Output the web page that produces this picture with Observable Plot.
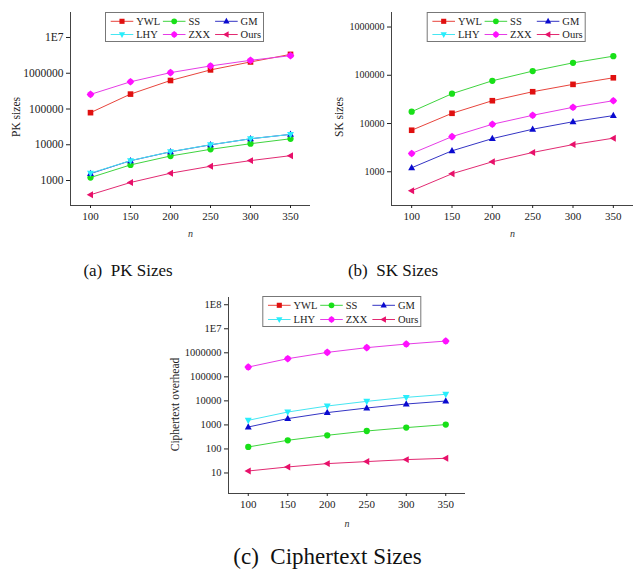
<!DOCTYPE html>
<html><head><meta charset="utf-8">
<script src="https://cdn.jsdelivr.net/npm/d3@7"></script>
<script src="https://cdn.jsdelivr.net/npm/@observablehq/plot@0.6"></script>
<style>
html,body{margin:0;padding:0;background:#fff;}
#wrap{position:relative;width:639px;height:569px;overflow:hidden;background:#fff;}
.panel{position:absolute;}
#overlay{position:absolute;left:0;top:0;}
</style></head><body><div id="wrap"></div>
<script>
// ---------- data ----------
const nValues = [100, 150, 200, 250, 300, 350];
const seriesNames = ["YWL", "SS", "GM", "LHY", "ZXX", "Ours"];

// (a) PK sizes
const pkYWL  = [79000, 261000, 627000, 1240000, 2070000, 3370000];
const pkSS   = [1210, 2730, 4850, 7450, 10700, 14700];
const pkGM   = [1560, 3580, 6350, 9950, 14700, 19500];
const pkLHY  = [1600, 3600, 6400, 10000, 14700, 19500];
const pkZXX  = [256000, 577000, 1040000, 1600000, 2300000, 3100000];
const pkOurs = [400, 880, 1600, 2500, 3600, 4950];

// (b) SK sizes
const skYWL  = [7260, 16300, 29700, 45600, 64800, 88700];
const skSS   = [17600, 41500, 76900, 122000, 181000, 249000];
const skGM   = [1210, 2720, 4870, 7620, 10900, 14600];
const skLHY  = [null, null, null, null, null, null];
const skZXX  = [2390, 5350, 9660, 14800, 21700, 29700];
const skOurs = [405, 910, 1610, 2510, 3660, 4970];

// (c) Ciphertext overhead
const ctYWL  = [null, null, null, null, null, null];
const ctSS   = [121, 229, 370, 558, 773, 1030];
const ctGM   = [818, 1830, 3250, 5050, 7400, 9860];
const ctLHY  = [1550, 3440, 6110, 9570, 14000, 18700];
const ctZXX  = [255000, 570000, 1040000, 1640000, 2310000, 3080000];
const ctOurs = [12.1, 17.8, 24.5, 29.8, 36, 40.8];

const pkTicks = [1000, 10000, 100000, 1000000, 10000000];
const skTicks = [1000, 10000, 100000, 1000000];
const ctTicks = [10, 100, 1000, 10000, 100000, 1000000, 10000000, 100000000];

const captions = ["(a)\u00a0 PK Sizes", "(b)\u00a0 SK Sizes", "(c)\u00a0 Ciphertext Sizes"];
const yLabels = ["PK sizes", "SK sizes", "Ciphertext overhead"];
const xLabel = "n";

// ---------- styles ----------
const lineColors   = {YWL: "#e8443c", SS: "#3fd43f", GM: "#3434c4", LHY: "#46e6f2", ZXX: "#e63ce6", Ours: "#e22a72"};
const markerColors = {YWL: "#e01010", SS: "#18e018", GM: "#0a0ad0", LHY: "#28eefc", ZXX: "#ff10ff", Ours: "#e8106a"};

const R = (size) => Math.sqrt(size / Math.PI);
const symbols = {
  YWL: {draw(c, s){ const r = R(s)*0.85; c.rect(-r, -r, 2*r, 2*r); }},
  SS:  {draw(c, s){ const r = R(s)*0.95; c.moveTo(r, 0); c.arc(0, 0, r, 0, 2*Math.PI); }},
  GM:  {draw(c, s){ const r = R(s); c.moveTo(0, -r*1.15); c.lineTo(r*1.05, r*0.75); c.lineTo(-r*1.05, r*0.75); c.closePath(); }},
  LHY: {draw(c, s){ const r = R(s); c.moveTo(0, r*1.15); c.lineTo(r*1.05, -r*0.75); c.lineTo(-r*1.05, -r*0.75); c.closePath(); }},
  ZXX: {draw(c, s){ const r = R(s)*1.15; c.moveTo(0, -r); c.lineTo(r*0.6, -r*0.55); c.lineTo(r, 0); c.lineTo(r*0.6, r*0.55); c.lineTo(0, r); c.lineTo(-r*0.6, r*0.55); c.lineTo(-r, 0); c.lineTo(-r*0.6, -r*0.55); c.closePath(); }},
  Ours:{draw(c, s){ const r = R(s); c.moveTo(-r*1.15, 0); c.lineTo(r*0.75, -r*1.05); c.lineTo(r*0.75, r*1.05); c.closePath(); }}
};

const fmt = d => d >= 1e7 ? "1E" + Math.round(Math.log10(d)) : String(d);
const FONT = "'Liberation Serif', 'Times New Roman', serif";

function rowsOf(arrays) {
  return seriesNames.flatMap((s, i) => nValues.map((n, j) => ({series: s, n, v: arrays[i][j]})))
    .filter(d => d.v != null);
}

const wrap = document.getElementById("wrap");

function panel(cfg) {
  const rows = rowsOf(cfg.arrays);
  const marks = [];
  for (const s of seriesNames) {
    const d = rows.filter(r => r.series === s);
    if (!d.length) continue;
    marks.push(Plot.line(d, {x: "n", y: "v", stroke: lineColors[s], strokeWidth: 1}));
    marks.push(Plot.dot(d, {x: "n", y: "v", symbol: () => symbols[s], fill: markerColors[s], stroke: "none", r: 3.3}));
  }
  marks.push(Plot.ruleX([cfg.xDomain[0]], {stroke: "#444", strokeWidth: 1}));
  marks.push(Plot.ruleY([cfg.yDomain[0]], {stroke: "#444", strokeWidth: 1}));
  marks.push(Plot.axisX(nValues, {tickSize: 3, tickPadding: 4, fontSize: 11, label: null}));
  marks.push(Plot.axisY(cfg.yTicks, {tickFormat: fmt, tickSize: 4, tickPadding: 3, fontSize: cfg.yFont, label: null}));
  marks.push(Plot.text([cfg.yLabel], {text: d => d, frameAnchor: "left", textAnchor: "middle", rotate: -90, dx: cfg.yLabelDx, dy: cfg.yLabelDy, fontSize: 11.5, fill: "#222"}));
  marks.push(Plot.text([xLabel], {text: d => d, frameAnchor: "bottom", dy: cfg.nDy, fontStyle: "italic", fontSize: 10, fill: "#333"}));
  const chart = Plot.plot({
    width: cfg.width, height: cfg.height,
    marginLeft: cfg.ml, marginRight: cfg.mr, marginTop: cfg.mt, marginBottom: cfg.mb,
    style: {fontFamily: FONT, fontSize: "11px", color: "#222", background: "transparent", overflow: "visible"},
    x: {domain: cfg.xDomain, label: null},
    y: {type: "log", domain: cfg.yDomain, label: null},
    marks
  });
  chart.classList.add("panel");
  chart.style.left = cfg.left + "px";
  chart.style.top = cfg.top + "px";
  wrap.appendChild(chart);
}

panel({arrays: [pkYWL, pkSS, pkGM, pkLHY, pkZXX, pkOurs], yDomain: [200, 5e7], yTicks: pkTicks, yLabel: yLabels[0], yFont: 11.5,
  xDomain: [75, 375], width: 320, height: 245, ml: 70, mr: 10, mt: 12, mb: 40, left: 0, top: 0, nDy: 31, yLabelDx: -54, yLabelDy: 8});
panel({arrays: [skYWL, skSS, skGM, skLHY, skZXX, skOurs], yDomain: [200, 2e6], yTicks: skTicks, yLabel: yLabels[1], yFont: 10,
  xDomain: [75, 375], width: 319, height: 245, ml: 71, mr: 6, mt: 12, mb: 40, left: 320, top: 0, nDy: 31, yLabelDx: -52, yLabelDy: 8});
panel({arrays: [ctYWL, ctSS, ctGM, ctLHY, ctZXX, ctOurs], yDomain: [1.4, 2e8], yTicks: ctTicks, yLabel: yLabels[2], yFont: 10.5,
  xDomain: [75, 375], width: 320, height: 260, ml: 68, mr: 15, mt: 17, mb: 47, left: 160, top: 280, nDy: 33, yLabelDx: -53, yLabelDy: 9});

// ---------- legends & captions overlay ----------
const svg = d3.select(wrap).append("svg").attr("id", "overlay")
  .attr("width", 639).attr("height", 569).style("font-family", FONT);

const legendBoxes = [{x: 105, y: 12, h: 29}, {x: 426.7, y: 12, h: 29}, {x: 262.3, y: 296, h: 30}];
for (const b of legendBoxes) {
  const g = svg.append("g").attr("transform", `translate(${b.x},${b.y})`);
  g.append("rect").attr("x", 0.5).attr("y", 0.5).attr("width", 158).attr("height", b.h)
    .attr("fill", "#fff").attr("stroke", "#777").attr("stroke-width", 1);
  seriesNames.forEach((s, i) => {
    const col = i % 3, row = Math.floor(i / 3);
    const ox = 5.7 + col * 52.2, oy = row === 0 ? 9.3 : b.h - 6.5;
    g.append("line").attr("x1", ox).attr("x2", ox + 22.6).attr("y1", oy).attr("y2", oy)
      .attr("stroke", lineColors[s]).attr("stroke-width", 1);
    const p = d3.path();
    symbols[s].draw(p, Math.PI * 3 * 3);
    g.append("path").attr("d", p.toString()).attr("transform", `translate(${ox + 11.3},${oy})`).attr("fill", markerColors[s]);
    g.append("text").attr("x", ox + 25.5).attr("y", oy).attr("dy", "0.35em")
      .attr("font-size", 10.5).attr("fill", "#222").text(s);
  });
}

const capPos = [{x: 128, y: 276, size: 17}, {x: 393, y: 276, size: 17}, {x: 327.5, y: 564, size: 23}];
captions.forEach((t, i) => {
  svg.append("text").attr("x", capPos[i].x).attr("y", capPos[i].y).attr("text-anchor", "middle")
    .attr("font-size", capPos[i].size).attr("fill", "#111").text(t);
});
</script>
</body></html>
